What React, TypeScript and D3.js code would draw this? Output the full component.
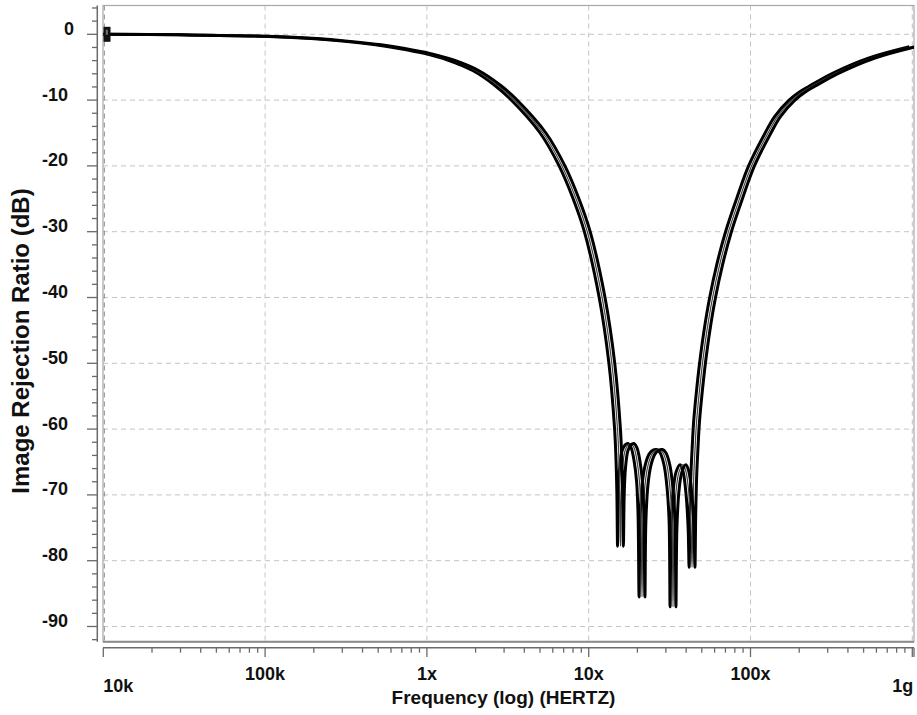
import React from "react";
import * as d3 from "d3";

// ---- data ----
const freqHz = [
  1e4, 3e4, 1e5, 2e5, 3e5, 5e5, 7e5, 1e6, 1.4e6, 2e6, 2.72e6,
  3.4e6, 5.22e6, 6.84e6, 8.35e6, 9.8e6, 1.21e7, 1.39e7, 1.507e7,
  1.539e7, 1.557e7, 1.572e7, 1.59e7, 1.618e7, 1.676e7, 1.75e7, 1.826e7,
  1.905e7, 1.988e7, 2.061e7, 2.104e7, 2.135e7, 2.165e7, 2.229e7, 2.326e7,
  2.462e7, 2.606e7, 2.739e7, 2.879e7, 3.047e7, 3.181e7, 3.273e7, 3.319e7,
  3.367e7, 3.464e7, 3.615e7, 3.826e7, 3.995e7, 4.169e7, 4.29e7, 4.351e7,
  4.399e7, 4.462e7, 4.552e7, 4.637e7, 4.798e7, 5.05e7, 5.383e7, 5.831e7,
  6.45e7, 7.311e7, 8.551e7, 1.0144e8, 1.2831e8, 1.469e8, 1.805e8, 2.081e8,
  2.399e8, 3.376e8, 5.636e8, 1e9,
];
const irrDb = [
  0, -0.08, -0.3, -0.65, -1.0, -1.6, -2.15, -2.9, -3.9, -5.5, -7.7,
  -9.8, -15, -20, -25, -30, -40, -50, -60,
  -65, -70, -77.8, -70, -66, -63.3, -62.4, -62.2,
  -62.8, -64.8, -68, -73, -85.5, -74, -68.5, -65.5,
  -63.8, -63.2, -63.1, -63.6, -65.5, -69, -74, -87,
  -75, -69.5, -66.5, -65.4, -66.5, -70, -75, -81,
  -73, -67, -62.5, -59, -55, -50, -45, -40,
  -35, -30, -25, -20, -15, -12.5, -10, -8.8,
  -7.9, -5.9, -3.6, -1.9,
];
// Monte Carlo bundle: small frequency spread of the runs (decades)
const bundleSpread = [-0.018, 0, 0.018];

const xTickValues = [1e4, 1e5, 1e6, 1e7, 1e8, 1e9];
const xTickLabels = ["10k", "100k", "1x", "10x", "100x", "1g"];
const yTickValues = [0, -10, -20, -30, -40, -50, -60, -70, -80, -90];
const yTickLabels = ["0", "-10", "-20", "-30", "-40", "-50", "-60", "-70", "-80", "-90"];

const W = 917;
const H = 715;
const plotLeft = 103;
const plotRight = 914;
const plotTop = 5.5;
const plotBottom = 641.7;
const yAxisX = 97.3;
const xAxisY = 647.7;
const FONT = "Arial, 'Liberation Sans', Helvetica, sans-serif";

export default function App() {
  const x = d3.scaleLog().domain([1e4, 1e9]).range([103.3, 912.3]);
  const y = d3.scaleLinear().domain([0, -90]).range([34.3, 626.5]);
  const decadePx = x(1e5) - x(1e4);

  const minorY = d3.range(4, -93, -2);
  const minorX = x.ticks().filter((v) => v >= 1e4 && v <= 1e9);

  const pts = freqHz.map((f, i) => [f, irrDb[i]] as [number, number]);

  const grid = "#c4c4c4";
  const axisCol = "#6a6a6a";

  return (
    <svg
      width={W}
      height={H}
      style={{ position: "absolute", left: 0, top: 0, background: "#fff" }}
      fontFamily={FONT}
    >
      <defs>
        <clipPath id="plotClip">
          <rect x={plotLeft} y={plotTop} width={plotRight - plotLeft} height={plotBottom - plotTop} />
        </clipPath>
      </defs>
      <rect x={0} y={0} width={W} height={H} fill="#fff" />

      {/* horizontal grid */}
      {yTickValues.map((v) => (
        <line key={"gy" + v} x1={plotLeft} x2={plotRight} y1={y(v)} y2={y(v)}
          stroke={grid} strokeWidth={1} strokeDasharray="5,4" />
      ))}
      {/* vertical grid */}
      {xTickValues.map((v, i) => (
        <line key={"gx" + v} x1={x(v) + (i === 0 ? 1 : 0)} x2={x(v) + (i === 0 ? 1 : 0)} y1={plotTop} y2={plotBottom}
          stroke={i === 0 ? "#888" : grid} strokeWidth={1} strokeDasharray="5,4" />
      ))}

      {/* frame */}
      <rect x={plotLeft} y={plotTop} width={plotRight - plotLeft} height={plotBottom - plotTop}
        fill="none" stroke="#a8a8a8" strokeWidth={1.2} />
      <line x1={plotLeft} x2={plotRight} y1={plotBottom} y2={plotBottom} stroke="#8a8a8a" strokeWidth={2} />

      {/* curves */}
      <g clipPath="url(#plotClip)">
        {bundleSpread.map((s, k) => {
          const line = d3
            .line<[number, number]>()
            .x((d) => x(d[0]) + s * decadePx)
            .y((d) => y(d[1]))
            .curve(d3.curveCatmullRom.alpha(0.5));
          return (
            <path key={"c" + k} d={line(pts) || ""} fill="none"
              stroke={k === 1 ? "#444" : "#000"} strokeWidth={k === 1 ? 1.2 : 3}
              strokeLinejoin="round" />
          );
        })}
      </g>

      {/* marker at start */}
      <rect x={103.5} y={y(0) - 7.5} width={7} height={15} fill="#111" />
      <rect x={105.8} y={y(0) - 4.5} width={2} height={5} fill="#777" />

      {/* y axis */}
      <line x1={yAxisX} x2={yAxisX} y1={plotTop} y2={plotBottom} stroke={axisCol} strokeWidth={1.5} />
      {minorY.map((v) => (
        <line key={"ty" + v} x1={v % 10 === 0 ? 87 : 92} x2={yAxisX} y1={y(v)} y2={y(v)}
          stroke={axisCol} strokeWidth={1.3} />
      ))}
      {yTickValues.map((v, i) => (
        <text key={"ly" + v} x={v === 0 ? 74 : 68} y={y(v) + 0.5} textAnchor="end" fontSize={18}
          fontWeight="bold" fill="#111">{yTickLabels[i]}</text>
      ))}

      {/* x axis */}
      <line x1={plotLeft} x2={plotRight} y1={xAxisY} y2={xAxisY} stroke={axisCol} strokeWidth={1.5} />
      {minorX.map((v) => {
        const major = Math.abs(Math.log10(v) - Math.round(Math.log10(v))) < 1e-9;
        return (
          <line key={"tx" + v} x1={x(v)} x2={x(v)} y1={xAxisY} y2={major ? 657 : 652.7}
            stroke={axisCol} strokeWidth={1.3} />
        );
      })}
      <line x1={plotRight} x2={plotRight} y1={xAxisY} y2={657} stroke={axisCol} strokeWidth={1.3} />
      {xTickValues.map((v, i) => {
        const first = i === 0;
        const last = i === xTickValues.length - 1;
        return (
          <text key={"lx" + v} x={first ? x(v) : last ? x(v) + 1 : x(v)}
            y={first || last ? 692 : 680}
            textAnchor={first ? "start" : last ? "end" : "middle"}
            fontSize={18} fontWeight="bold" fill="#111">{xTickLabels[i]}</text>
        );
      })}

      {/* axis titles */}
      <text x={503.5} y={704} textAnchor="middle" fontSize={19} fontWeight="bold" fill="#111">
        Frequency (log) (HERTZ)
      </text>
      <text transform="translate(29,341) rotate(-90)" textAnchor="middle" fontSize={24}
        fontWeight="bold" fill="#111">
        Image Rejection Ratio (dB)
      </text>
    </svg>
  );
}
